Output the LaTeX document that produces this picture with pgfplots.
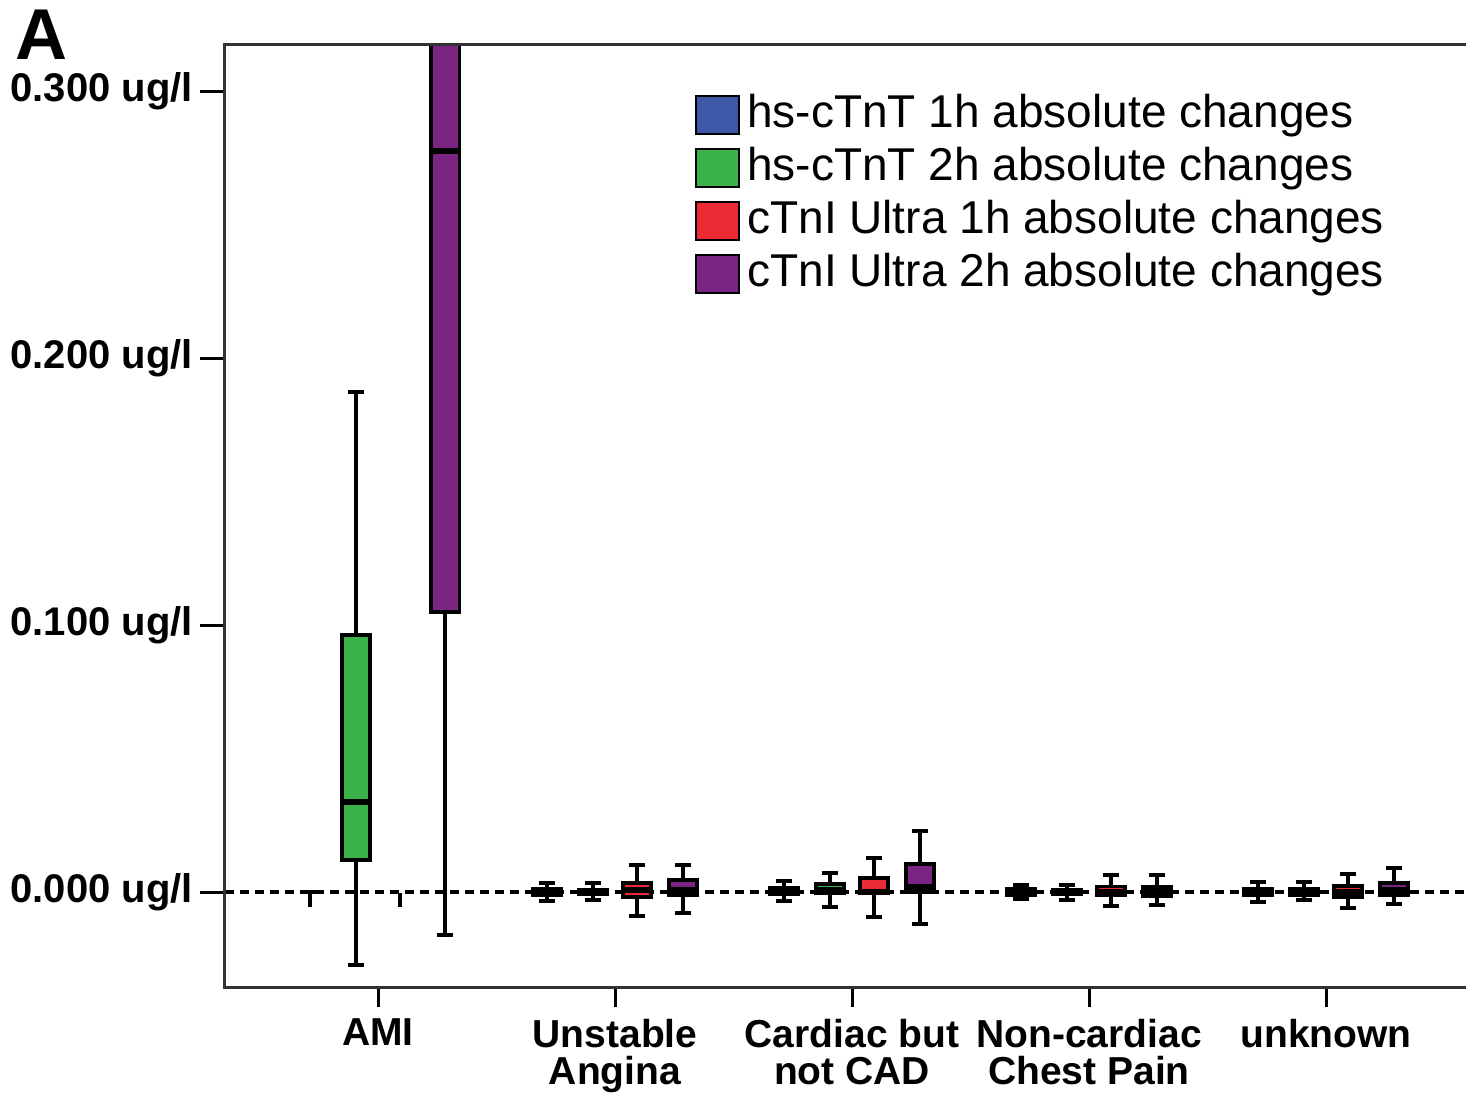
\documentclass[border=0pt]{standalone}
\usepackage{fontspec}
\setmainfont{Liberation Sans}
\usepackage{pgfplots}
\pgfplotsset{compat=1.18}
\usepgfplotslibrary{statistics}
\definecolor{cblue}{RGB}{62,88,168}
\definecolor{cgreen}{RGB}{58,180,74}
\definecolor{cred}{RGB}{236,42,52}
\definecolor{cpurple}{RGB}{122,36,132}
\newcommand{\bp}[7]{\addplot[forget plot, fill=#1, draw=black, line width=1.8pt,
  boxplot prepared={draw direction=y, draw position=#2, lower whisker=#3, lower quartile=#4,
  median=#5, upper quartile=#6, upper whisker=#7, box extend=0.12, whisker extend=0.065}] coordinates {};}
\begin{document}
\begin{tikzpicture}
\path[use as bounding box] (-112.5pt,-53pt) rectangle (620.5pt,493.5pt);
\begin{axis}[
  scale only axis, width=620.5pt, height=471pt,
  at={(0pt,0pt)}, anchor=south west,
  xmin=-0.6456, xmax=4.5907, ymin=-0.03558, ymax=0.31723,
  clip mode=individual,
  axis line style={draw=none},
  tick align=outside, tick pos=left,
  major tick length=12.5pt,
  xtick={0,1,2,3,4},
  xticklabels={AMI,{Unstable\\Angina},{Cardiac but\\not CAD},{Non-cardiac\\Chest Pain},unknown},
  xticklabel style={align=center, font=\bfseries\fontsize{19.5}{18.5}\selectfont},
  ytick={0,0.1,0.2,0.3},
  yticklabels={0.000 ug/l,0.100 ug/l,0.200 ug/l,0.300 ug/l},
  yticklabel style={font=\bfseries\fontsize{20}{20}\selectfont},
  scaled y ticks=false,
  xtick style={line width=1.5pt, black, /pgfplots/major tick length=10pt},
  ytick style={line width=1.5pt, black},
  boxplot/every median/.style={line width=2.8pt},
  legend image code/.code={\draw[#1] (0pt,-9.5pt) rectangle (21.5pt,9.5pt);},
  legend cell align=left,
  legend style={at={(rel axis cs:0.3787,0.949)}, anchor=north west, draw=none, fill=none,
    font=\fontsize{23}{26}\selectfont, inner sep=0pt,
    nodes={inner sep=0pt, text height=17pt, text depth=4.5pt},
    row sep=5pt,
    /tikz/every odd column/.append style={column sep=3.5pt}},
]
\addlegendimage{fill=cblue, draw=black, line width=1pt}
\addlegendentry{hs-cTnT 1h absolute changes}
\addlegendimage{fill=cgreen, draw=black, line width=1pt}
\addlegendentry{hs-cTnT 2h absolute changes}
\addlegendimage{fill=cred, draw=black, line width=1pt}
\addlegendentry{cTnI Ultra 1h absolute changes}
\addlegendimage{fill=cpurple, draw=black, line width=1pt}
\addlegendentry{cTnI Ultra 2h absolute changes}

% zero reference line
\addplot[forget plot, black, line width=1.6pt, dash pattern=on 4.5pt off 3pt] coordinates {(-0.6456,0) (4.5907,0)};

% AMI (partly erased in the original)
\addplot[forget plot, black, line width=1.8pt] coordinates {(-0.31,0) (-0.264,0)};
\addplot[forget plot, black, line width=1.8pt] coordinates {(-0.287,0) (-0.287,-0.0056)};
\addplot[forget plot, black, line width=2.2pt] coordinates {(0.093,-0.0005) (0.093,-0.0055)};
\bp{cgreen}{-0.093}{-0.0273}{0.0120}{0.0337}{0.0963}{0.1873}
\bp{cpurple}{0.283}{-0.0161}{0.1049}{0.2775}{0.36}{0.45}

% Unstable Angina
\bp{cblue}{0.713}{-0.0034}{-0.0011}{0}{0.0011}{0.0034}
\bp{cgreen}{0.907}{-0.0030}{-0.0010}{0}{0.0010}{0.0034}
\bp{cred}{1.093}{-0.0090}{-0.0019}{0.0007}{0.0034}{0.0101}
\bp{cpurple}{1.287}{-0.0079}{-0.0011}{0.0007}{0.0045}{0.0101}

% Cardiac but not CAD
\bp{cblue}{1.713}{-0.0034}{-0.0008}{0}{0.0015}{0.0041}
\bp{cgreen}{1.907}{-0.0056}{-0.0004}{0.0010}{0.0030}{0.0071}
\bp{cred}{2.093}{-0.0094}{-0.0004}{0.0002}{0.0052}{0.0127}
\bp{cpurple}{2.287}{-0.0120}{0.0000}{0.0019}{0.0105}{0.0228}

% Non-cardiac Chest Pain
\bp{cblue}{2.713}{-0.0026}{-0.0013}{0}{0.0013}{0.0026}
\bp{cgreen}{2.907}{-0.0030}{-0.0010}{0}{0.0010}{0.0026}
\bp{cred}{3.093}{-0.0052}{-0.0011}{0}{0.0020}{0.0064}
\bp{cpurple}{3.287}{-0.0049}{-0.0015}{0}{0.0019}{0.0064}

% unknown
\bp{cblue}{3.713}{-0.0037}{-0.0013}{0}{0.0013}{0.0037}
\bp{cgreen}{3.907}{-0.0030}{-0.0012}{0}{0.0012}{0.0037}
\bp{cred}{4.093}{-0.0060}{-0.0019}{0}{0.0022}{0.0067}
\bp{cpurple}{4.287}{-0.0045}{-0.0011}{0.0007}{0.0034}{0.0090}

\draw[line width=1.5pt, black!80] (rel axis cs:1,1) -- (rel axis cs:0,1) -- (rel axis cs:0,0) -- (rel axis cs:1,0);
\end{axis}
\node[anchor=base west, inner sep=0pt, font=\bfseries\fontsize{36}{36}\selectfont] at (-105pt,463.5pt) {A};
\end{tikzpicture}
\end{document}
